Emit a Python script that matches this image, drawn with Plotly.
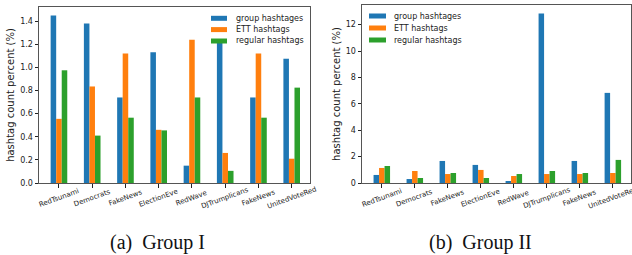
import plotly.graph_objects as go

categories = ["RedTsunami", "Democrats", "FakeNews", "ElectionEve", "RedWave",
              "DJTrumplicans", "FakeNews ", "UnitedVoteRed"]
tick_labels = ["RedTsunami", "Democrats", "FakeNews", "ElectionEve", "RedWave",
               "DJTrumplicans", "FakeNews", "UnitedVoteRed"]
series_names = ["group hashtages", "ETT hashtags", "regular hashtags"]

g1_group = [1.45, 1.38, 0.74, 1.13, 0.15, 1.21, 0.74, 1.075]
g1_ett = [0.555, 0.835, 1.12, 0.46, 1.24, 0.26, 1.12, 0.21]
g1_regular = [0.975, 0.41, 0.565, 0.455, 0.74, 0.105, 0.565, 0.825]

g2_group = [0.61, 0.30, 1.67, 1.37, 0.15, 12.85, 1.67, 6.83]
g2_ett = [1.14, 0.91, 0.68, 0.99, 0.53, 0.68, 0.68, 0.76]
g2_regular = [1.29, 0.38, 0.76, 0.38, 0.68, 0.91, 0.76, 1.75]

colors = ["#1f77b4", "#ff7f0e", "#2ca02c"]
captions = ["(a)  Group I", "(b)  Group II"]

W, H = 632, 255


def px(x):
    return x / W


def py(y):
    return 1 - y / H


fig = go.Figure()

for i, (name, vals) in enumerate(zip(series_names, [g1_group, g1_ett, g1_regular])):
    fig.add_trace(go.Bar(x=categories, y=vals, name=name, marker_color=colors[i],
                         marker_line_width=0, xaxis="x", yaxis="y",
                         showlegend=False, offsetgroup=str(i)))
for i, (name, vals) in enumerate(zip(series_names, [g2_group, g2_ett, g2_regular])):
    fig.add_trace(go.Bar(x=categories, y=vals, name=name, marker_color=colors[i],
                         marker_line_width=0, xaxis="x2", yaxis="y2",
                         showlegend=False, offsetgroup=str(i)))

font = "DejaVu Sans"
axis_common = dict(showline=True, mirror=True, linecolor="#555", linewidth=1,
                   ticks="outside", ticklen=3.5, tickcolor="#222", tickwidth=1,
                   showgrid=False, zeroline=False, automargin=False)

fig.update_layout(
    width=W, height=H,
    margin=dict(l=0, r=0, t=0, b=0),
    paper_bgcolor="white", plot_bgcolor="white",
    barmode="group", bargap=0.5, bargroupgap=0,
    font=dict(family=font, color="#222"),
    xaxis=dict(domain=[px(39), px(310)], anchor="y", type="category",
               range=[-0.6, 7.55], showticklabels=False, **axis_common),
    yaxis=dict(domain=[py(183), py(7)], anchor="x",
               range=[0, 1.5225], dtick=0.2, tickformat=".1f",
               tickfont=dict(size=8, family=font),
               title=dict(text="hashtag count percent (%)", font=dict(size=10, family=font),
                          standoff=3),
               **axis_common),
    xaxis2=dict(domain=[px(362), px(631)], anchor="y2", type="category",
                range=[-0.6, 7.55], showticklabels=False, **axis_common),
    yaxis2=dict(domain=[py(183), py(5)], anchor="x2",
                range=[0, 13.49], dtick=2,
                tickfont=dict(size=8, family=font),
                title=dict(text="hashtag count percent (%)", font=dict(size=10, family=font),
                           standoff=3),
                **axis_common),
)

# Rotated category labels centred under their ticks (matplotlib style)
for xref in ["x", "x2"]:
    for cat, lab in zip(categories, tick_labels):
        fig.add_annotation(text=lab, x=cat, xref=xref, y=py(198), yref="paper",
                           xanchor="center", yanchor="middle", textangle=-20,
                           showarrow=False, font=dict(size=7, family=font, color="#222"))

# Legends (matplotlib style: wide colour patches + labels)
legend_specs = [
    dict(x0=211, x1=227, tx=234, rows=[18.3, 29.6, 41.0]),
    dict(x0=369, x1=386, tx=392, rows=[16.0, 28.0, 40.0]),
]
for spec in legend_specs:
    for name, color, yc in zip(series_names, colors, spec["rows"]):
        fig.add_shape(type="rect", xref="paper", yref="paper",
                      x0=px(spec["x0"]), x1=px(spec["x1"]),
                      y0=py(yc + 2.5), y1=py(yc - 2.5),
                      fillcolor=color, line_width=0, layer="above")
        fig.add_annotation(text=name, x=px(spec["tx"]), y=py(yc), xref="paper", yref="paper",
                           xanchor="left", yanchor="middle", showarrow=False,
                           font=dict(size=8, family=font, color="#222"))

fig.add_annotation(text=captions[0], x=px(157), y=py(242), xref="paper", yref="paper",
                   xanchor="center", yanchor="middle", showarrow=False,
                   font=dict(family="Liberation Serif", size=20, color="#111"))
fig.add_annotation(text=captions[1], x=px(481), y=py(242), xref="paper", yref="paper",
                   xanchor="center", yanchor="middle", showarrow=False,
                   font=dict(family="Liberation Serif", size=20, color="#111"))

fig.write_html("out.html", config={"displayModeBar": False},
               post_script="document.body.style.margin='0px';document.body.style.overflow='hidden';")
